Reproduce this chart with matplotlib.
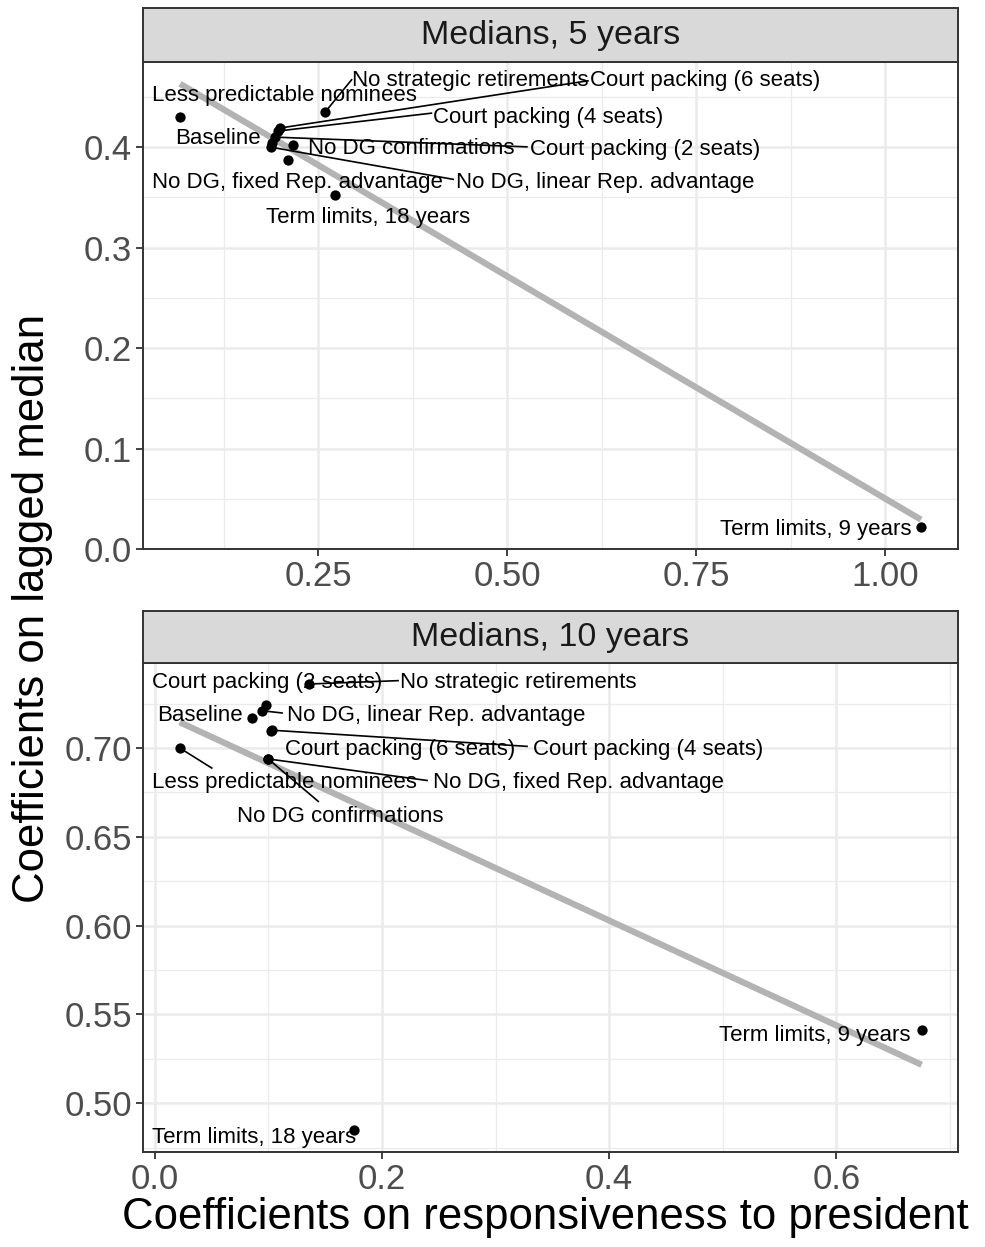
import numpy as np
import matplotlib
matplotlib.use('Agg')
import matplotlib.pyplot as plt

plt.rcParams['font.family'] = ['Liberation Sans', 'DejaVu Sans']

scenarios = ['Baseline', 'Court packing (2 seats)', 'Court packing (4 seats)',
             'Court packing (6 seats)', 'Less predictable nominees',
             'No DG confirmations', 'No DG, fixed Rep. advantage',
             'No DG, linear Rep. advantage', 'No strategic retirements',
             'Term limits, 9 years', 'Term limits, 18 years']

# Medians, 5 years
resp_5 = [0.188, 0.192, 0.196, 0.199, 0.067, 0.217, 0.210, 0.187, 0.259, 1.047, 0.272]
lag_5 = [0.404, 0.410, 0.416, 0.419, 0.430, 0.402, 0.387, 0.400, 0.435, 0.022, 0.352]

# Medians, 10 years
resp_10 = [0.086, 0.098, 0.103, 0.1025, 0.022, 0.0995, 0.100, 0.094, 0.136, 0.675, 0.175]
lag_10 = [0.717, 0.724, 0.710, 0.7097, 0.700, 0.694, 0.6938, 0.721, 0.736, 0.541, 0.485]

# repelled label spots: (x, baseline y, ha, segment end or None)
labels_5 = {
    'Baseline': (0.0602, 0.4030, 'left', None),
    'Court packing (2 seats)': (0.5297, 0.3923, 'left', (0.5258, 0.4003)),
    'Court packing (4 seats)': (0.4015, 0.4245, 'left', (0.3995, 0.4338)),
    'Court packing (6 seats)': (0.6091, 0.4610, 'left', (0.6065, 0.4660)),
    'Less predictable nominees': (0.0298, 0.4464, 'left', None),
    'No DG confirmations': (0.2361, 0.3930, 'left', None),
    'No DG, fixed Rep. advantage': (0.0298, 0.3592, 'left', None),
    'No DG, linear Rep. advantage': (0.4319, 0.3592, 'left', (0.4283, 0.3680)),
    'No strategic retirements': (0.2943, 0.4610, 'left', (0.2939, 0.4670)),
    'Term limits, 9 years': (1.0350, 0.0142, 'right', None),
    'Term limits, 18 years': (0.1806, 0.3244, 'left', None),
}

labels_10 = {
    'Baseline': (0.0018, 0.7150, 'left', None),
    'Court packing (2 seats)': (-0.0021, 0.7338, 'left', None),
    'Court packing (4 seats)': (0.3333, 0.6962, 'left', (0.3277, 0.7009)),
    'Court packing (6 seats)': (0.1147, 0.6962, 'left', None),
    'Less predictable nominees': (-0.0021, 0.6775, 'left', (0.0502, 0.6887)),
    'No DG confirmations': (0.0722, 0.6586, 'left', (0.1440, 0.6699)),
    'No DG, fixed Rep. advantage': (0.2452, 0.6775, 'left', (0.2397, 0.6817)),
    'No DG, linear Rep. advantage': (0.1162, 0.7150, 'left', (0.1121, 0.7197)),
    'No strategic retirements': (0.2159, 0.7338, 'left', (0.2142, 0.7379)),
    'Term limits, 9 years': (0.6648, 0.5351, 'right', None),
    'Term limits, 18 years': (-0.0024, 0.4776, 'left', None),
}


def draw_panel(fig, box, strip_box, title, x, y, labels, xlim, ylim,
               xticks, xlabels, xminor, yticks, ylabels, yminor):
    ax = fig.add_axes(box)
    ax.set_xlim(*xlim)
    ax.set_ylim(*ylim)
    ax.set_xticks(xticks)
    ax.set_xticklabels(xlabels)
    ax.set_yticks(yticks)
    ax.set_yticklabels(ylabels)
    ax.set_xticks(xminor, minor=True)
    ax.set_yticks(yminor, minor=True)
    ax.grid(which='major', color='#EBEBEB', lw=1.8, zorder=0)
    ax.grid(which='minor', color='#EBEBEB', lw=0.9, zorder=0)
    ax.set_axisbelow(True)
    ax.tick_params(which='major', length=5, width=1.3, color='#333333',
                   labelcolor='#4D4D4D', labelsize=25, pad=3)
    ax.tick_params(which='minor', length=0)
    for s in ax.spines.values():
        s.set_color('#333333')
        s.set_linewidth(1.4)

    # linear fit, like geom_smooth(method = 'lm', se = FALSE)
    x = np.array(x)
    y = np.array(y)
    slope, icpt = np.polyfit(x, y, 1)
    xs = np.array([x.min(), x.max()])
    ax.plot(xs, icpt + slope * xs, color='#B3B3B3', lw=4.5,
            solid_capstyle='butt', zorder=2)

    ax.scatter(x, y, s=55, color='black', lw=0, zorder=3)

    for i, name in enumerate(scenarios):
        lx, ly, ha, seg = labels[name]
        if seg is not None:
            ax.plot([x[i], seg[0]], [y[i], seg[1]], color='black', lw=1.2, zorder=4)
        ax.text(lx, ly, name, ha=ha, va='baseline', fontsize=16, zorder=5)

    sax = fig.add_axes(strip_box)
    sax.set_facecolor('#D9D9D9')
    sax.set_xticks([])
    sax.set_yticks([])
    for s in sax.spines.values():
        s.set_color('#333333')
        s.set_linewidth(1.4)
    sax.text(0.5, 0.48, title, ha='center', va='center', fontsize=24.5,
             color='#1A1A1A', transform=sax.transAxes)
    return ax


fig = plt.figure(figsize=(9.85, 12.47), dpi=100)

draw_panel(fig, [0.14518, 0.55950, 0.82741, 0.39102],
           [0.14518, 0.95052, 0.82741, 0.04306],
           'Medians, 5 years', resp_5, lag_5, labels_5,
           (0.018, 1.096), (0.0, 0.485),
           [0.25, 0.5, 0.75, 1.0], ['0.25', '0.50', '0.75', '1.00'],
           [0.125, 0.375, 0.625, 0.875],
           [0.0, 0.1, 0.2, 0.3, 0.4], ['0.0', '0.1', '0.2', '0.3', '0.4'],
           [0.05, 0.15, 0.25, 0.35, 0.45])

draw_panel(fig, [0.14518, 0.07642, 0.82741, 0.39214],
           [0.14518, 0.46856, 0.82741, 0.0417],
           'Medians, 10 years', resp_10, lag_10, labels_10,
           (-0.0103, 0.707), (0.4727, 0.748),
           [0.0, 0.2, 0.4, 0.6], ['0.0', '0.2', '0.4', '0.6'],
           [0.1, 0.3, 0.5, 0.7],
           [0.50, 0.55, 0.60, 0.65, 0.70], ['0.50', '0.55', '0.60', '0.65', '0.70'],
           [0.475, 0.525, 0.575, 0.625, 0.675, 0.725])

fig.text(33 / 985, 1 - 608 / 1247, 'Coefficients on lagged median',
         rotation=90, ha='center', va='center', fontsize=31.5)
fig.text(545 / 985, 1 - 1218 / 1247, 'Coefficients on responsiveness to president',
         ha='center', va='center', fontsize=31.5)

fig.savefig('out.png', dpi=100)
